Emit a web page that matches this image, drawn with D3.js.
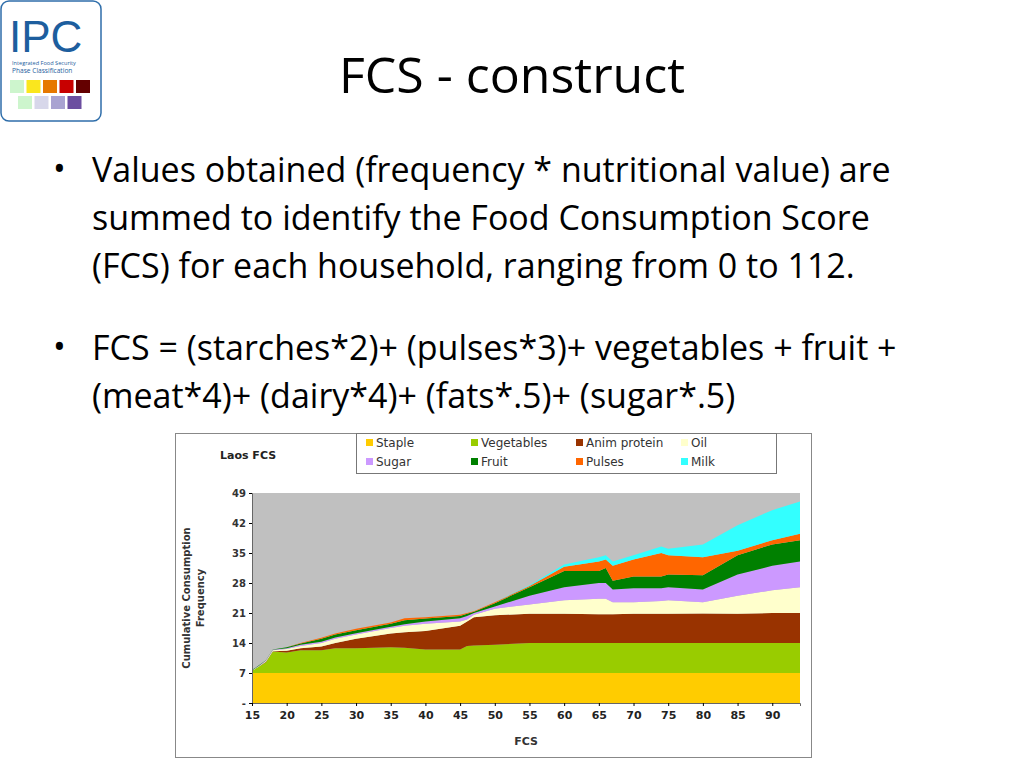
<!DOCTYPE html>
<html><head><meta charset="utf-8">
<script src="https://cdn.jsdelivr.net/npm/d3@7"></script>
<style>body{margin:0;background:#fff}</style>
</head><body>
<svg id="slide" width="1024" height="768"></svg>
<script>
// Data: cumulative tops of each stacked layer at each FCS value
const fcs = [15,16,17,18,20,22,25,27,30,35,37,40,45,46,47,50,55,60,65,66,67,70,74,75,80,85,90,94];
const stapleTop = fcs.map(() => 7);
const vegTop    = [7.5,8.5,9.5,12,11.8,12.3,12.3,12.8,12.8,13,12.9,12.5,12.5,13.3,13.4,13.6,14,14,14,14,14,14,14,14,14,14,14,14];
const animTop   = [7.5,8.5,9.6,12.1,12.2,12.8,13.2,14,15,16.2,16.5,16.8,18,19,20,20.5,20.8,20.8,20.7,20.7,20.7,20.8,20.8,20.8,20.9,20.8,21,21];
const oilTop    = [7.6,8.6,9.8,12.3,12.6,13.3,14,15,16,17.5,18,18.5,19,19.5,20.6,22,23,24,24.3,24.3,23.5,23.5,23.8,24,23.5,25,26.3,27];
const sugarTop  = [7.6,8.7,9.9,12.4,12.8,13.6,14.3,15.3,16.3,17.8,18.4,19,19.8,20.3,21,22.5,25,27,28,28,26.5,26.8,26.8,27,26.5,30,32,33];
const fruitTop  = [7.7,8.8,10,12.5,13,13.9,15,16,17,18.5,19.3,19.7,20.3,20.8,21.3,23.3,27,30.8,30.8,31.5,28.5,29.5,29.5,30,29.8,34.5,37,38];
const pulsesTop = [7.7,8.8,10,12.5,13,14,15.2,16.2,17.3,18.8,19.8,20,20.6,21,21.4,23.5,27.3,31.8,33,33.5,32,33.5,35,34.5,34,35.5,38,39.5];
const milkTop   = [7.7,8.8,10,12.5,13,14,15.2,16.2,17.3,18.8,19.8,20,20.6,21,21.4,23.5,27.5,32.3,34,34.5,33,34.5,36.5,36,37,41.5,45,47];

const seriesNames = ["Staple","Vegetables","Anim protein","Oil","Sugar","Fruit","Pulses","Milk"];
const seriesTops = [stapleTop, vegTop, animTop, oilTop, sugarTop, fruitTop, pulsesTop, milkTop];
const seriesColors = ["#ffcc00","#99cc00","#993300","#ffffcc","#cc99ff","#008000","#ff6600","#33ffff"];
const yTicks = [0,7,14,21,28,35,42,49];
const xTicks = [15,20,25,30,35,40,45,50,55,60,65,70,75,80,85,90];

const svg = d3.select("#slide");
const font = "'Open Sans', Lato, sans-serif";

// ---- logo
const logo = svg.append("g");
logo.append("rect").attr("x",1).attr("y",1).attr("width",100).attr("height",120).attr("rx",8)
  .attr("fill","#fff").attr("stroke","#2f6eaa").attr("stroke-width",1.5);
logo.append("text").attr("x",9).attr("y",52).attr("font-family","'Liberation Sans', sans-serif")
  .attr("font-size",44).attr("fill","#1d5e9e").text("IPC");
logo.append("text").attr("x",12).attr("y",65).attr("font-family",font).attr("font-size",5.6).attr("fill","#1d5e9e").text("Integrated Food Security");
logo.append("text").attr("x",12).attr("y",73).attr("font-family",font).attr("font-size",6.6).attr("fill","#1d5e9e").text("Phase Classification");
const row1 = ["#cdf5cd","#fae61e","#e67800","#c80000","#640000"];
const row2 = ["#cdf5cd","#d7d7ea","#a9a3d1","#6c4ea0"];
row1.forEach((c,i) => logo.append("rect").attr("x",10+i*16.5).attr("y",80).attr("width",14).attr("height",13).attr("fill",c));
row2.forEach((c,i) => logo.append("rect").attr("x",18+i*16.5).attr("y",96).attr("width",14).attr("height",13).attr("fill",c));

// ---- title and bullets
svg.append("text").attr("x",512).attr("y",93).attr("text-anchor","middle")
  .attr("font-family",font).attr("font-size",50).attr("fill","#000").text("FCS - construct");

const bullets = [
  {y:182, lines:["Values obtained (frequency * nutritional value) are","summed to identify the Food Consumption Score","(FCS) for each household, ranging from 0 to 112."]},
  {y:360, lines:["FCS = (starches*2)+ (pulses*3)+ vegetables + fruit +","(meat*4)+ (dairy*4)+ (fats*.5)+ (sugar*.5)"]}
];
bullets.forEach(b => {
  svg.append("text").attr("x",53).attr("y",b.y-1).attr("font-family",font).attr("font-size",34).text("•");
  b.lines.forEach((l,i) => svg.append("text").attr("x",92).attr("y",b.y+i*48)
    .attr("font-family",font).attr("font-size",34).attr("textLength",null).attr("fill","#000").text(l));
});

// ---- embedded chart
const chart = svg.append("g");
chart.append("rect").attr("x",175.5).attr("y",433.5).attr("width",636).attr("height",324)
  .attr("fill","#fff").attr("stroke","#888");

const x = d3.scaleLinear().domain([15,94]).range([252,800]);
const y = d3.scaleLinear().domain([0,49]).range([703,493]);

chart.append("rect").attr("x",x(15)).attr("y",y(49)).attr("width",x(94)-x(15)).attr("height",y(0)-y(49)).attr("fill","#c0c0c0");

const area = d3.area().x((d,i) => x(fcs[i])).y0(d => y(d[0])).y1(d => y(d[1]));
seriesTops.forEach((tops,k) => {
  const pts = tops.map((t,i) => [k === 0 ? 0 : seriesTops[k-1][i], t]);
  chart.append("path").datum(pts).attr("d",area).attr("fill",seriesColors[k]);
});

const axFont = "'DejaVu Sans', Verdana, sans-serif";
const yAxis = chart.append("g").attr("transform",`translate(${x(15)},0)`)
  .call(d3.axisLeft(y).tickValues(yTicks).tickSize(3).tickFormat(d => d === 0 ? "-" : d));
yAxis.select(".domain").attr("stroke","#666");
yAxis.selectAll("text").attr("font-family",axFont).attr("font-size",10).attr("font-weight","bold").attr("fill","#333");
const xAxis = chart.append("g").attr("transform",`translate(0,${y(0)})`)
  .call(d3.axisBottom(x).tickValues(xTicks).tickSize(3));
xAxis.select(".domain").attr("stroke","#666");
xAxis.selectAll("text").attr("font-family",axFont).attr("font-size",11).attr("font-weight","bold").attr("fill","#222").attr("dy","0.9em");

chart.append("text").attr("x",(x(15)+x(94))/2).attr("y",745).attr("text-anchor","middle")
  .attr("font-family",axFont).attr("font-size",11).attr("font-weight","bold").attr("fill","#333").text("FCS");
chart.append("text").attr("transform",`translate(190,${(493+703)/2}) rotate(-90)`).attr("text-anchor","middle")
  .attr("font-family",axFont).attr("font-size",10).attr("font-weight","bold").attr("fill","#333").text("Cumulative Consumption");
chart.append("text").attr("transform",`translate(204,${(493+703)/2}) rotate(-90)`).attr("text-anchor","middle")
  .attr("font-family",axFont).attr("font-size",10).attr("font-weight","bold").attr("fill","#333").text("Frequency");
chart.append("text").attr("x",220).attr("y",459).attr("font-family",axFont).attr("font-size",11)
  .attr("font-weight","bold").attr("fill","#222").text("Laos FCS");

// legend: row1 Staple,Vegetables,Anim protein,Oil; row2 Sugar,Fruit,Pulses,Milk
const legend = chart.append("g");
legend.append("rect").attr("x",356.5).attr("y",433.5).attr("width",420).attr("height",40)
  .attr("fill","#fff").attr("stroke","#777");
seriesNames.forEach((n,i) => {
  const col = i % 4, row = Math.floor(i / 4);
  const lx = 366 + col * 105, ly = 443 + row * 19;
  legend.append("rect").attr("x",lx).attr("y",ly-4).attr("width",7).attr("height",7).attr("fill",seriesColors[i]);
  legend.append("text").attr("x",lx+10).attr("y",ly+4).attr("font-family",axFont).attr("font-size",12)
    .attr("fill","#333").text(n);
});
</script>
</body></html>
